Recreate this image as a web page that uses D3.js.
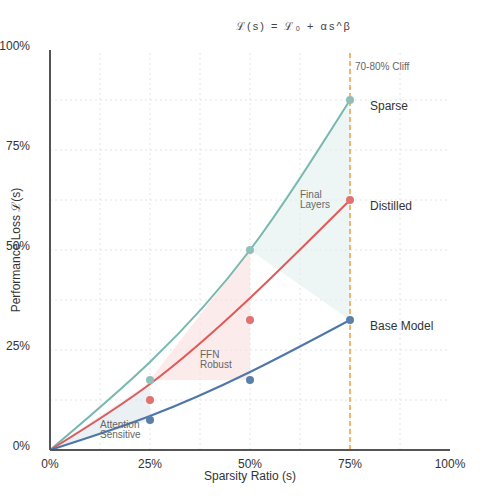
<!DOCTYPE html>
<html><head><meta charset="utf-8">
<script src="https://cdn.jsdelivr.net/npm/d3@7"></script>
<style>body{margin:0;background:#fff}text{font-family:"Liberation Sans",Arial,sans-serif}</style>
</head><body><svg id="chart" width="500" height="500"></svg>
<script>
// curve values read at s = 0, 25, 50, 75 (%)
const curveS = [0, 25, 50, 75];
const sparseCurve = [0, 22, 50, 87.5];
const distilledCurve = [0, 16.5, 38, 62.5];
const baseCurve = [0, 8.5, 19.5, 32.5];
// measured points
const pointS = [25, 50, 75];
const sparsePts = [17.5, 50, 87.5];
const distilledPts = [12.5, 32.5, 62.5];
const basePts = [7.5, 17.5, 32.5];
const seriesNames = ['Sparse', 'Distilled', 'Base Model'];
const seriesColors = ['#78b8b0', '#e05a5a', '#4e77a8'];
const pointColors = ['#8fbfb8', '#e07272', '#5a7fab'];
const regions = [
  { name: ['Attention', 'Sensitive'], pts: [[0, 0], [25, 17], [25, 7.5]], fill: '#dde6ef', lx: 12.5, ly: 5 },
  { name: ['FFN', 'Robust'], pts: [[25, 17.5], [50, 50], [50, 17.5]], fill: '#f9dede', lx: 37.5, ly: 22.5 },
  { name: ['Final', 'Layers'], pts: [[50, 50], [75, 87.5], [75, 32.5]], fill: '#e3f0ef', lx: 62.5, ly: 62.5 }
];
const ticks = [0, 25, 50, 75, 100];
const gridTicks = [12.5, 25, 37.5, 50, 62.5, 75, 87.5];

const svg = d3.select('#chart');
const x = d3.scaleLinear().domain([0, 100]).range([50, 450]);
const y = d3.scaleLinear().domain([0, 100]).range([450, 50]);

// grid
const grid = svg.append('g').attr('stroke', '#e4e4e4').attr('stroke-dasharray', '2,3');
grid.selectAll('.v').data(gridTicks).join('line')
  .attr('x1', d => x(d)).attr('x2', d => x(d)).attr('y1', y(0)).attr('y2', y(100));
grid.selectAll('.h').data(gridTicks).join('line')
  .attr('y1', d => y(d)).attr('y2', d => y(d)).attr('x1', x(0)).attr('x2', x(100));

// shaded regions
regions.forEach(r => {
  svg.append('path').attr('d', d3.line().x(d => x(d[0])).y(d => y(d[1]))(r.pts) + 'Z')
    .attr('fill', r.fill).attr('opacity', 0.6);
});

// curves
const line = d3.line().x(d => x(d[0])).y(d => y(d[1])).curve(d3.curveNatural);
[sparseCurve, distilledCurve, baseCurve].forEach((c, i) => {
  svg.append('path').attr('d', line(curveS.map((s, j) => [s, c[j]])))
    .attr('fill', 'none').attr('stroke', seriesColors[i]).attr('stroke-width', 2);
});

// cliff
svg.append('line').attr('x1', x(75)).attr('x2', x(75)).attr('y1', y(0)).attr('y2', y(100))
  .attr('stroke', '#f0a040').attr('stroke-width', 1.5).attr('stroke-dasharray', '5,3');
svg.append('text').attr('x', x(75) + 5).attr('y', 70).attr('font-size', 10).attr('fill', '#666').text('70-80% Cliff');

// points
[sparsePts, distilledPts, basePts].forEach((p, i) => {
  svg.selectAll(null).data(pointS.map((s, j) => [s, p[j]])).join('circle')
    .attr('cx', d => x(d[0])).attr('cy', d => y(d[1])).attr('r', 4).attr('fill', pointColors[i]);
  svg.append('text').attr('x', 370).attr('y', y(p[2]) + 10).attr('font-size', 12).attr('fill', '#333').text(seriesNames[i]);
});

// region labels
regions.forEach(r => {
  const t = svg.append('text').attr('font-size', 10).attr('fill', '#666');
  r.name.forEach((n, k) => t.append('tspan').attr('x', x(r.lx)).attr('y', y(r.ly) - 2 + k * 10).text(n));
});

// axes
svg.append('line').attr('x1', x(0)).attr('x2', x(0)).attr('y1', y(0)).attr('y2', y(100)).attr('stroke', '#555').attr('stroke-width', 2);
svg.append('line').attr('x1', x(0)).attr('x2', x(100)).attr('y1', y(0)).attr('y2', y(0)).attr('stroke', '#555').attr('stroke-width', 2);
svg.selectAll('.xt').data(ticks).join('text').attr('x', d => x(d)).attr('y', 468)
  .attr('text-anchor', 'middle').attr('font-size', 12).attr('fill', '#333').text(d => d + '%');
svg.selectAll('.yt').data(ticks).join('text').attr('x', 30).attr('y', d => y(d))
  .attr('text-anchor', 'end').attr('font-size', 12).attr('fill', '#333').text(d => d + '%');

svg.append('text').attr('x', 250).attr('y', 480).attr('text-anchor', 'middle').attr('font-size', 12).attr('fill', '#333').text('Sparsity Ratio (s)');
svg.append('text').attr('transform', 'translate(20,250) rotate(-90)').attr('text-anchor', 'middle')
  .attr('font-size', 12).attr('fill', '#333').text('Performance Loss ℒ(s)');
svg.append('text').attr('x', 294).attr('y', 30).attr('text-anchor', 'middle').attr('font-size', 11)
  .attr('fill', '#444').attr('letter-spacing', 2).text('ℒ(s) = ℒ₀ + αs^β');
</script></body></html>
